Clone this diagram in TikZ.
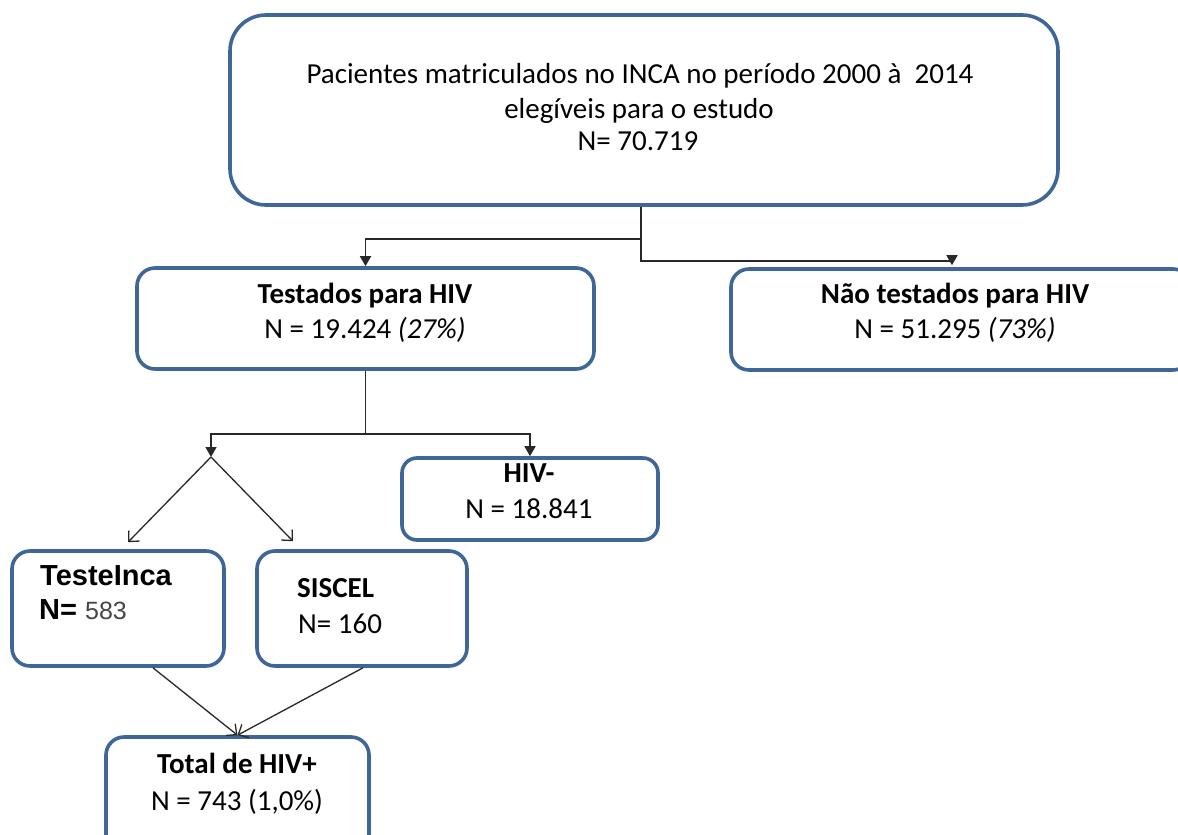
\documentclass[tikz,border=0pt]{standalone}
\usepackage{fontspec}
\setmainfont{Carlito}
\newfontfamily\arialfont{Liberation Sans}
\usetikzlibrary{arrows.meta,calc}
\definecolor{boxblue}{RGB}{62,102,152}
\definecolor{linegray}{RGB}{40,40,40}
\definecolor{numgray}{RGB}{70,70,70}

\tikzset{
  box/.style={draw=boxblue, line width=3.6pt, rounded corners=#1, inner sep=0pt},
  box/.default=18pt,
  txt/.style={anchor=base, inner sep=0pt, font=\fontsize{29}{34}\selectfont},
  btxt/.style={txt, font=\fontsize{29}{34}\selectfont\bfseries},
  elbow/.style={draw=linegray, line width=1.6pt, -{Triangle[length=10pt,width=11pt]}},
  diag/.style={draw=linegray, line width=1.3pt, -{Straight Barb[length=8pt,width=15pt]}},
}

\begin{document}
\begin{tikzpicture}[x=1pt, y=-1pt]
\useasboundingbox (0,0) rectangle (1178,835);
\fill[white] (0,0) rectangle (1178,835);
\clip (0,0) rectangle (1178,835);

% boxes
\node[box=36pt, minimum width=828pt, minimum height=190pt] (top) at (644,110) {};
\node[box, minimum width=457pt, minimum height=101pt] (test) at (365.5,318.5) {};
\node[box, minimum width=460pt, minimum height=101pt] (nao) at (961,319.5) {};
\node[box=15pt, minimum width=256pt, minimum height=82pt] (hivneg) at (530,499) {};
\node[box, minimum width=212pt, minimum height=115pt] (inca) at (118,608.5) {};
\node[box, minimum width=210pt, minimum height=115pt] (siscel) at (362,608.5) {};
\node[box, minimum width=263pt, minimum height=126pt] (total) at (237.5,800) {};

% texts
\node[txt] (t1) at (640,83) {Pacientes matriculados no INCA no período 2000 à\ \ 2014};
\node[txt] (t2) at (639,118) {elegíveis para o estudo};
\node[txt] (t3) at (638,150) {N= 70.719};

\node[btxt] (t4) at (365,303) {Testados para HIV};
\node[txt] (t5) at (365,338) {N = 19.424 \textit{(27\%)}};

\node[btxt] (t6) at (955,303) {Não testados para HIV};
\node[txt] (t7) at (955,338) {N = 51.295 \textit{(73\%)}};

\node[btxt] (t8) at (529,482) {HIV-};
\node[txt] (t9) at (529,518) {N = 18.841};

\node[txt, anchor=base west, font=\arialfont\fontsize{29}{34}\selectfont\bfseries] (t10) at (40,585) {TesteInca};
\node[txt, anchor=base west, font=\arialfont\fontsize{29}{34}\selectfont] (t11) at (39,619) {\textbf{N=} \textcolor{numgray}{\fontsize{25}{30}\selectfont 583}};

\node[btxt, anchor=base west] (t12) at (297,597) {SISCEL};
\node[txt, anchor=base west] (t13) at (298,633) {N= 160};

\node[btxt] (t14) at (237,773) {Total de HIV+};
\node[txt] (t15) at (237,810) {N = 743 (1,0\%)};

% connectors
\coordinate (fork) at (211,457);
\draw[elbow] ([xshift=-3pt]top.south) -- ++(0,32) -| (test.north);
\draw[elbow] ([xshift=-3pt]top.south) -- ++(0,54) -| ([xshift=-9pt,yshift=2pt]nao.north);
\draw[elbow] (test.south) -- ++(0,63) -| (fork);
\draw[elbow] (test.south) -- ++(0,63) -| (hivneg.north);
\draw[diag] (fork) -- ([shift={(10,-7)}]inca.north);
\draw[diag] (fork) -- ([shift={(-69,-8)}]siscel.north);
\draw[diag] ([xshift=35pt]inca.south) -- (total.north);
\draw[diag] ([xshift=1pt]siscel.south) -- (total.north);
\end{tikzpicture}
\end{document}
